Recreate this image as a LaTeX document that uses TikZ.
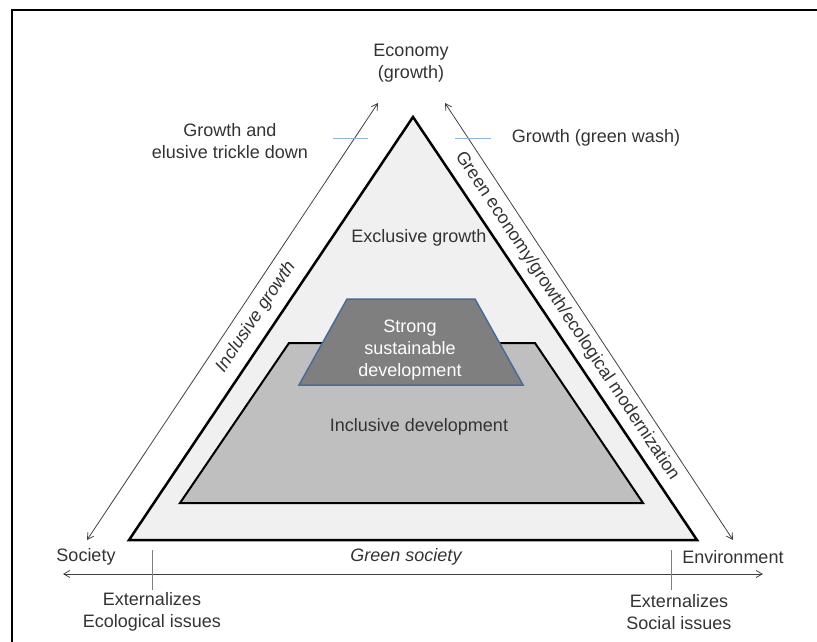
\documentclass[tikz,border=0pt]{standalone}
\usepackage{fontspec}
\setmainfont{Liberation Sans}
\usetikzlibrary{arrows.meta}
\definecolor{trifill}{HTML}{F0F0F0}
\definecolor{incfill}{HTML}{BFBFBF}
\definecolor{strfill}{HTML}{7F7F7F}
\definecolor{strdraw}{HTML}{4A6A9C}
\definecolor{txt}{HTML}{333333}
\definecolor{arr}{HTML}{404040}
\definecolor{bluetick}{HTML}{8DB3E2}
\definecolor{graytick}{HTML}{7F7F7F}
\tikzset{
  lbl/.style={text=txt, font=\fontsize{18}{22}\selectfont, align=center, inner sep=0pt},
  ilbl/.style={lbl, font=\fontsize{18}{22}\selectfont\itshape},
  dblarrow/.style={draw=arr, line width=0.8pt, {Straight Barb[angle=60:7pt]}-{Straight Barb[angle=60:7pt]}},
  btick/.style={draw=bluetick, line width=0.8pt},
  gtick/.style={draw=graytick, line width=1pt},
}
\begin{document}
\begin{tikzpicture}[x=1pt, y=-1pt]
\path[use as bounding box] (0,0) rectangle (817,642);
% frame
\draw[line width=2pt] (12,642) -- (12,10) -- (817,10);
% shapes
\draw[fill=trifill, line width=2.5pt, line join=miter] (413,117) -- (697,540) -- (129,540) -- cycle;
\draw[fill=incfill, line width=2pt] (289,343) -- (535,343) -- (643,503) -- (180,503) -- cycle;
\draw[fill=strfill, draw=strdraw, line width=1.5pt] (347,299) -- (475,299) -- (523,385) -- (299,385) -- cycle;
% arrow coordinates
\coordinate (LA1) at (87,540);
\coordinate (LA2) at (378,103);
\coordinate (RA1) at (445,103);
\coordinate (RA2) at (733,540);
\coordinate (HA1) at (63,574);
\coordinate (HA2) at (763,574);
\draw[dblarrow] (LA1) -- (LA2);
\draw[dblarrow] (RA1) -- (RA2);
\draw[dblarrow] (HA1) -- (HA2);
% ticks
\coordinate (BL1) at (333,138); \coordinate (BL2) at (368,138);
\coordinate (BR1) at (455,138); \coordinate (BR2) at (491,138);
\draw[btick] (BL1) -- (BL2);
\draw[btick] (BR1) -- (BR2);
\coordinate (GL1) at (152,550); \coordinate (GL2) at (152,590);
\coordinate (GR1) at (671,550); \coordinate (GR2) at (671,590);
\draw[gtick] (GL1) -- (GL2);
\draw[gtick] (GR1) -- (GR2);
% labels
\node[lbl] (econ) at (411,63) {Economy\\(growth)};
\node[lbl] (gat) at (230,141) {Growth and\\elusive trickle down};
\node[lbl] (ggw) at (596,138) {Growth (green wash)};
\node[lbl] (exg) at (419,238) {Exclusive growth};
\node[lbl, text=white] (ssd) at (410,350) {Strong\\sustainable\\development};
\node[lbl] (incd) at (419,427) {Inclusive development};
\node[ilbl, rotate=56.4] (incg) at (256,317) {Inclusive growth};
\node[lbl, rotate=-56.4] (gegm) at (567,316) {Green economy/growth/ecological modernization};
\node[lbl] (soc) at (86,557) {Society};
\node[lbl] (env) at (733,557) {Environment};
\node[ilbl] (gs) at (406,557) {Green society};
\node[lbl] (exe) at (152,612) {Externalizes\\Ecological issues};
\node[lbl] (exs) at (679,612) {Externalizes\\Social issues};
\end{tikzpicture}
\end{document}
